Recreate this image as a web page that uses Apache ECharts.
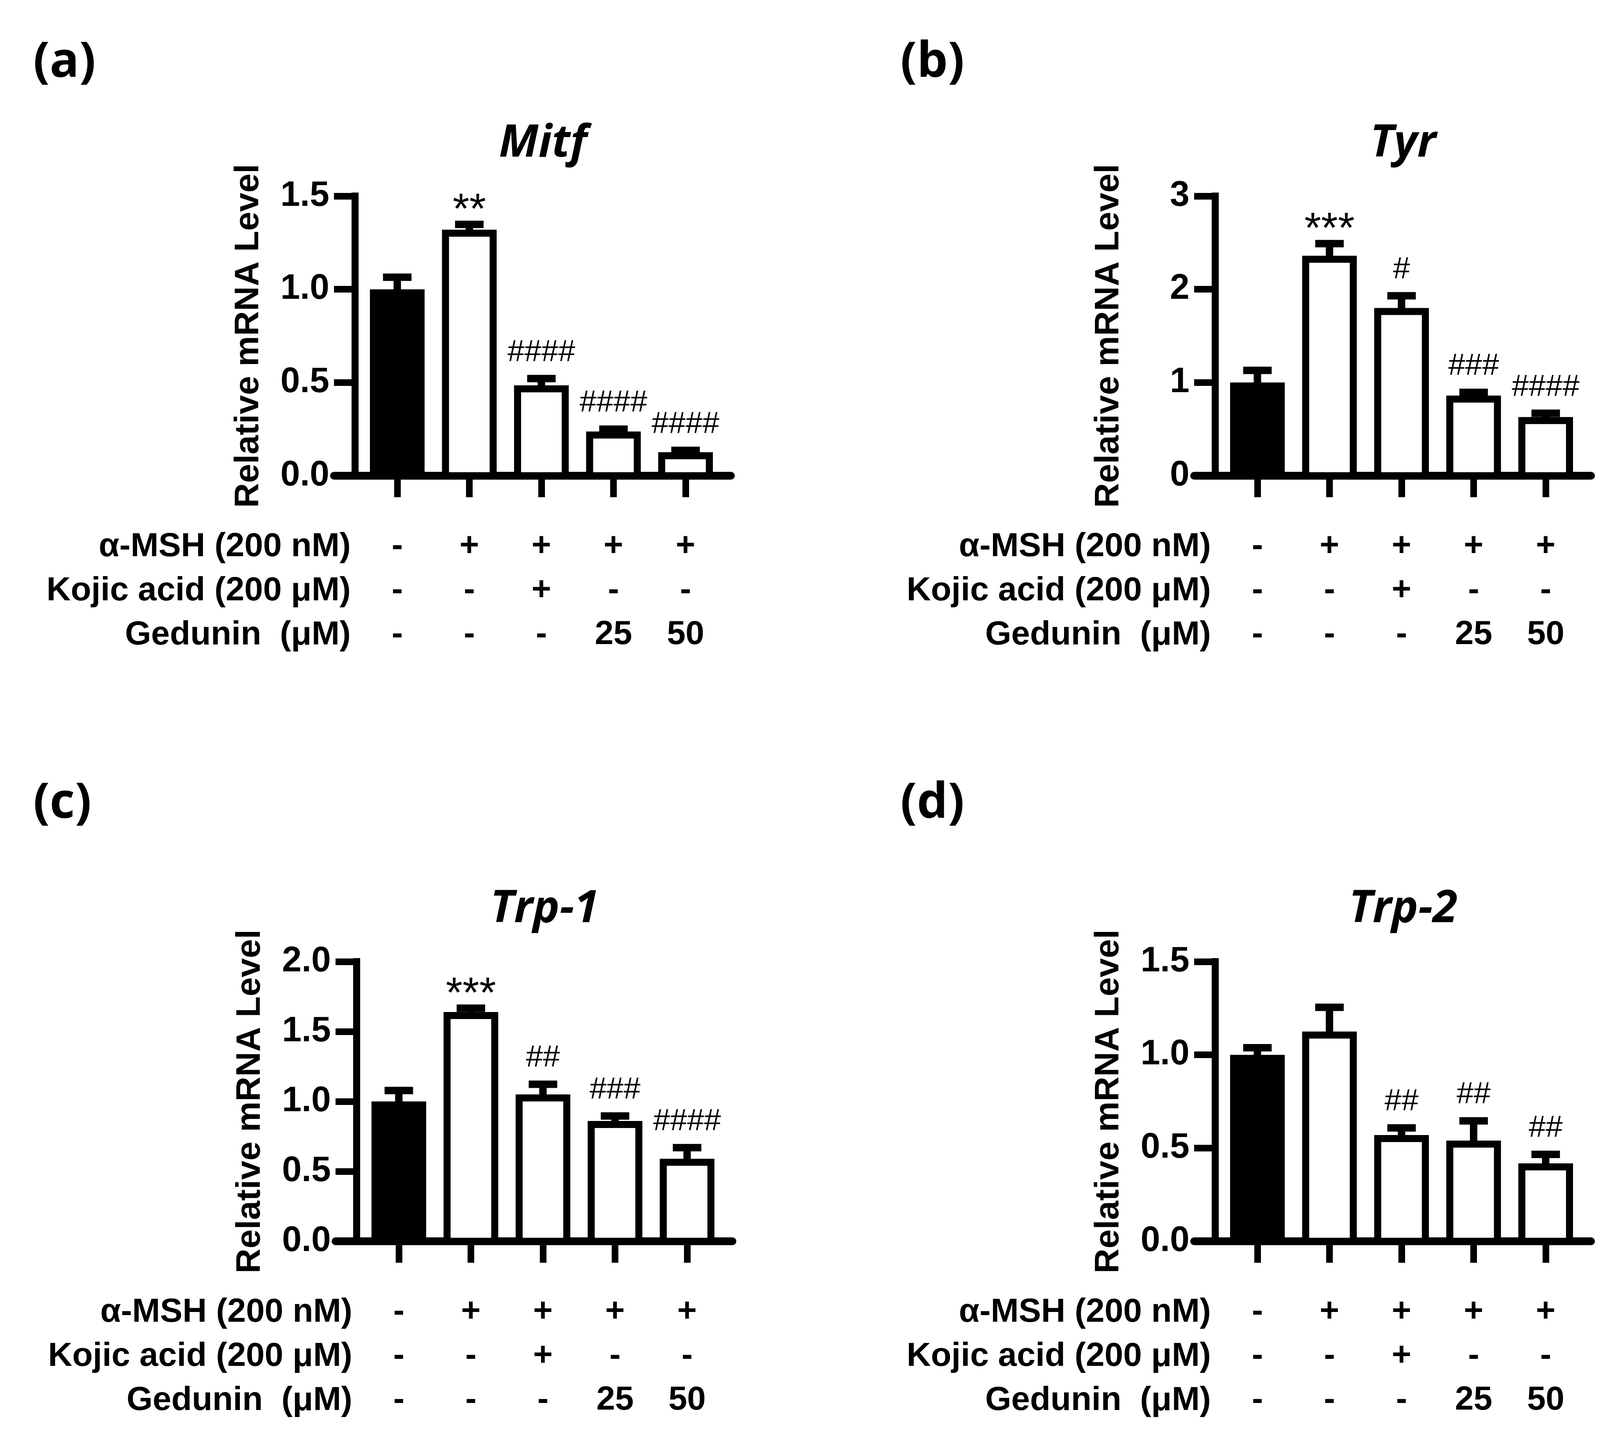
<!DOCTYPE html>
<html>
<head>
<meta charset="utf-8">
<script src="https://cdn.jsdelivr.net/npm/echarts@6/dist/echarts.min.js"></script>
<style>
  html, body { margin: 0; padding: 0; background: #fff; }
  #main { width: 4158px; height: 3674px; }
</style>
</head>
<body>
<div id="main"></div>
<script>
// treatment rows under each chart
var rowNames = ['α-MSH (200 nM)', 'Kojic acid (200 μM)', 'Gedunin  (μM)'];
var mshRow = ['-', '+', '+', '+', '+'];
var kojicRow = ['-', '-', '+', '-', '-'];
var gedRow = ['-', '-', '-', '25', '50'];

// Mitf
var mitfMean = [1.00, 1.32, 0.485, 0.237, 0.126];
var mitfErr = [0.065, 0.028, 0.036, 0.013, 0.010];
var mitfMarks = ['', '**', '####', '####', '####'];
// Tyr
var tyrMean = [1.00, 2.36, 1.80, 0.86, 0.63];
var tyrErr = [0.13, 0.13, 0.13, 0.035, 0.04];
var tyrMarks = ['', '***', '#', '###', '####'];
// Trp-1
var trp1Mean = [1.00, 1.64, 1.05, 0.86, 0.59];
var trp1Err = [0.078, 0.027, 0.073, 0.036, 0.08];
var trp1Marks = ['', '***', '##', '###', '####'];
// Trp-2
var trp2Mean = [1.00, 1.125, 0.57, 0.54, 0.418];
var trp2Err = [0.038, 0.13, 0.038, 0.106, 0.048];
var trp2Marks = ['', '', '##', '##', '##'];

var panels = [
    { tag: '(a)', title: 'Mitf', mean: mitfMean, err: mitfErr, marks: mitfMarks, max: 1.5, step: 0.5, digits: 1, dx: 0, dy: 0 },
    { tag: '(b)', title: 'Tyr', mean: tyrMean, err: tyrErr, marks: tyrMarks, max: 3, step: 1, digits: 0, dx: 2202, dy: 0 },
    { tag: '(c)', title: 'Trp-1', mean: trp1Mean, err: trp1Err, marks: trp1Marks, max: 2, step: 0.5, digits: 1, dx: 4, dy: 1960 },
    { tag: '(d)', title: 'Trp-2', mean: trp2Mean, err: trp2Err, marks: trp2Marks, max: 1.5, step: 0.5, digits: 1, dx: 2202, dy: 1960 }
];

var LABEL_FONT = "'Liberation Sans', Arial, sans-serif";
var HEAD_FONT = "'Open Sans', 'Liberation Sans', sans-serif";
var BAR_W = 140;
var LW = 18;
var CAP_W = 73;

var chart = echarts.init(document.getElementById('main'), null, { renderer: 'canvas' });

var grids = [], xAxes = [], yAxes = [], series = [], graphics = [];

panels.forEach(function (p, i) {
    var gx = 855 + p.dx, gy = 502 + p.dy;
    grids.push({ left: gx, top: gy, width: 1016, height: 716 });

    xAxes.push({
        gridIndex: i,
        type: 'value',
        min: -0.878,
        max: 4.629,
        axisLine: { onZero: false, lineStyle: { color: '#000', width: 20 } },
        axisTick: { show: true, customValues: [0, 1, 2, 3, 4], length: 55, lineStyle: { color: '#000', width: 17 } },
        axisLabel: {
            customValues: [0, 1, 2, 3, 4],
            margin: 125,
            lineHeight: 113,
            fontSize: 86,
            fontWeight: 'bold',
            fontFamily: LABEL_FONT,
            color: '#000',
            formatter: function (v) {
                return mshRow[v] + '\n' + kojicRow[v] + '\n' + gedRow[v];
            }
        },
        splitLine: { show: false }
    });

    yAxes.push({
        gridIndex: i,
        type: 'value',
        min: 0,
        max: p.max,
        interval: p.step,
        offset: -54,
        name: 'Relative mRNA Level',
        nameLocation: 'middle',
        nameGap: 228,
        nameTextStyle: { fontSize: 88, fontWeight: 'bold', fontFamily: LABEL_FONT, color: '#000' },
        axisLine: { show: true, onZero: false, lineStyle: { color: '#000', width: 18, cap: 'square' } },
        axisTick: { show: true, length: 54, lineStyle: { color: '#000', width: 17 } },
        axisLabel: {
            margin: 66,
            fontSize: 90,
            fontFamily: LABEL_FONT,
            fontWeight: 'bold',
            color: '#000',
            formatter: function (v) { return v.toFixed(p.digits); }
        },
        splitLine: { show: false }
    });

    // bars: outline drawn inside the bar so the outer edge sits on the value
    series.push({
        type: 'custom',
        xAxisIndex: i,
        yAxisIndex: i,
        encode: { x: 0, y: 1 },
        data: p.mean.map(function (m, k) { return [k, m]; }),
        renderItem: function (params, api) {
            var k = api.value(0);
            var top = api.coord([k, api.value(1)]);
            var base = api.coord([k, 0]);
            return {
                type: 'rect',
                shape: {
                    x: top[0] - BAR_W / 2 + LW / 2,
                    y: top[1] + LW / 2,
                    width: BAR_W - LW,
                    height: base[1] - top[1] - LW / 2
                },
                style: { fill: k === 0 ? '#000' : '#fff', stroke: '#000', lineWidth: LW }
            };
        }
    });

    // error bars (upper only) with significance marks
    series.push({
        type: 'custom',
        xAxisIndex: i,
        yAxisIndex: i,
        encode: { x: 0, y: 1 },
        z: 3,
        data: p.mean.map(function (m, k) { return [k, m, p.err[k]]; }),
        renderItem: function (params, api) {
            var k = api.value(0), m = api.value(1), e = api.value(2);
            var p0 = api.coord([k, m]);
            var p1 = api.coord([k, m + e]);
            var mark = p.marks[k];
            var star = mark.indexOf('*') >= 0;
            var kids = [
                { type: 'rect', shape: { x: p1[0] - 9.5, y: p1[1], width: 19, height: p0[1] - p1[1] + 2 }, style: { fill: '#000' } },
                { type: 'rect', shape: { x: p1[0] - CAP_W / 2, y: p1[1] - 9.5, width: CAP_W, height: 19 }, style: { fill: '#000' } }
            ];
            if (mark) {
                kids.push({
                    type: 'text',
                    style: {
                        text: mark,
                        x: p1[0],
                        y: p1[1] - (star ? 34 : 66),
                        align: 'center',
                        verticalAlign: 'middle',
                        fontSize: star ? 110 : 78,
                        fontFamily: LABEL_FONT,
                        fill: '#000'
                    }
                });
            }
            return { type: 'group', children: kids };
        }
    });

    // panel letter, gene title, row names
    graphics.push({
        type: 'text', x: 85 + 2220 * (i % 2), y: 161 + 1897 * Math.floor(i / 2),
        style: { text: p.tag, verticalAlign: 'middle', fontSize: 125, fontWeight: 'bold', fontFamily: HEAD_FONT, fill: '#000' }
    });
    graphics.push({
        type: 'text', x: 1390 + p.dx, y: 368 + p.dy,
        style: { text: p.title, align: 'center', verticalAlign: 'middle', fontSize: 115, fontWeight: 'bold', fontStyle: 'italic', fontFamily: HEAD_FONT, fill: '#000' }
    });
    rowNames.forEach(function (name, r) {
        graphics.push({
            type: 'text', x: 898 + p.dx, y: 1400 + 113 * r + p.dy,
            style: { text: name, align: 'right', verticalAlign: 'middle', fontSize: 86, fontWeight: 'bold', fontFamily: LABEL_FONT, fill: '#000' }
        });
    });
});

chart.setOption({
    backgroundColor: '#fff',
    animation: false,
    grid: grids,
    xAxis: xAxes,
    yAxis: yAxes,
    series: series,
    graphic: graphics
});
</script>
</body>
</html>
